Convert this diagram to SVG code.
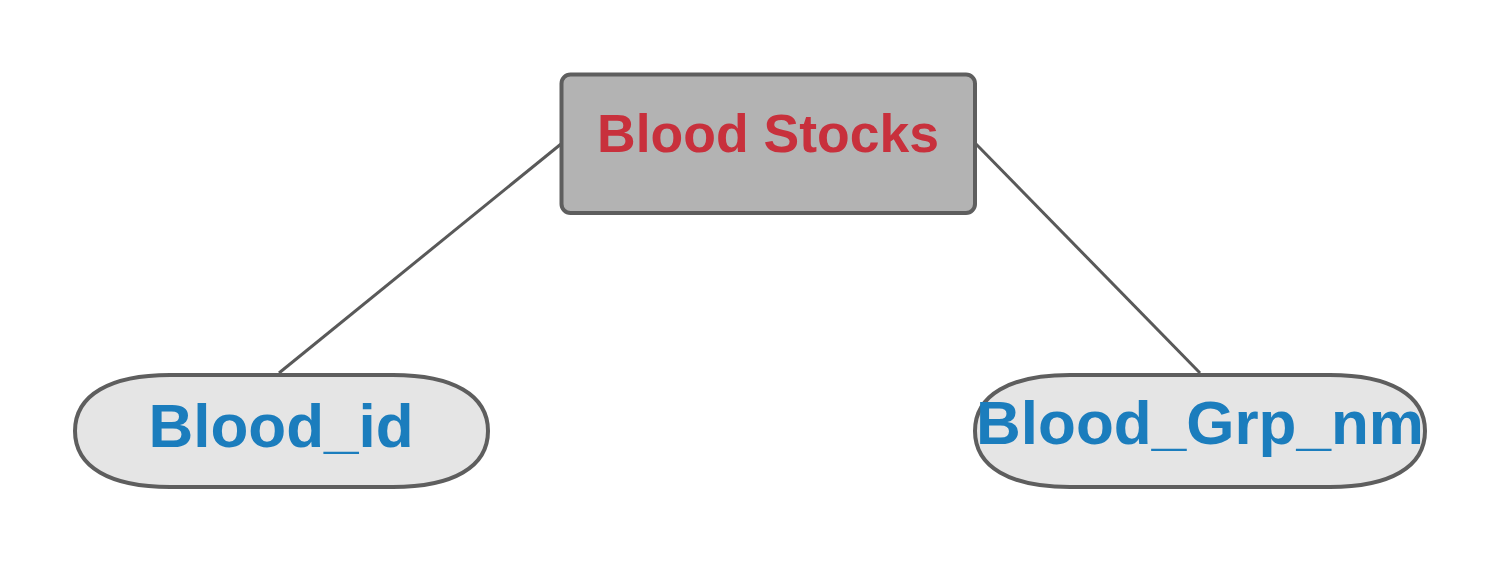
<svg xmlns="http://www.w3.org/2000/svg" width="1500" height="563" viewBox="0 0 1500 563">
<style>
.conn{stroke:#595959;stroke-width:3;fill:none}
.ent{fill:#b3b3b3;stroke:#5e5e5e;stroke-width:4}
.attr{fill:#e5e5e5;stroke:#5e5e5e;stroke-width:4}
.t{font-family:"Liberation Sans",Arial,sans-serif;font-weight:bold;text-anchor:middle}
.red{fill:#c8303c;font-size:53.5px}
.blue{fill:#1b7dbd;font-size:62px}
</style>
<rect width="1500" height="563" fill="#ffffff"/>
<g id="connectors">
<line class="conn" x1="561" y1="144" x2="279" y2="373"/>
<line class="conn" x1="976" y1="144" x2="1200" y2="373"/>
</g>
<g id="blood-stocks">
<rect class="ent" x="561.5" y="74.5" width="413.5" height="138.5" rx="9"/>
<text class="t red" x="768" y="152">Blood Stocks</text>
</g>
<g id="blood-id">
<path class="attr" d="M75,431 C75,395 110,375 170,375 L393,375 C453,375 488,395 488,431 C488,467 453,487 393,487 L170,487 C110,487 75,467 75,431 Z"/>
<text class="t blue" x="281" y="447">Blood_id</text>
</g>
<g id="blood-grp-nm">
<path class="attr" d="M975,431 C975,395 1010,375 1070,375 L1330,375 C1390,375 1425,395 1425,431 C1425,467 1390,487 1330,487 L1070,487 C1010,487 975,467 975,431 Z"/>
<text class="t blue" x="1200" y="444">Blood_Grp_nm</text>
</g>
</svg>
